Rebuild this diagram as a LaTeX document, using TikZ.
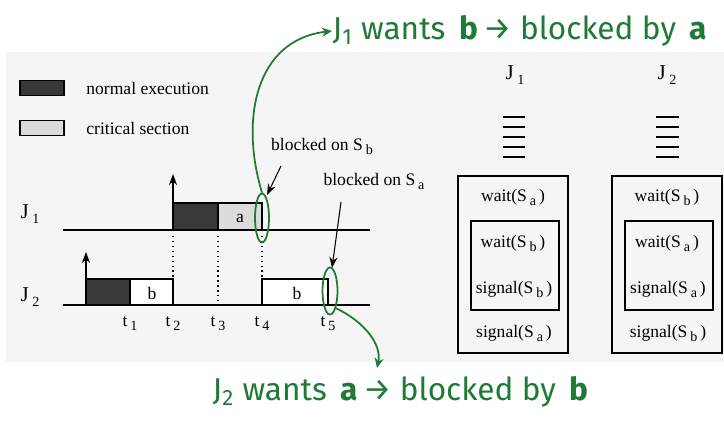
\documentclass[tikz,border=0pt]{standalone}
\usepackage{fontspec}
\setmainfont{Liberation Serif}
\newfontfamily\handfont{Fira Sans}
\usetikzlibrary{arrows.meta,positioning,shapes.geometric}
\definecolor{scangray}{HTML}{F5F5F5}
\definecolor{inkgreen}{HTML}{1F7A35}
\newcommand{\sbs}[1]{\,\raisebox{-0.5ex}{\footnotesize #1}}

\begin{document}
\begin{tikzpicture}[x=0.02cm,y=-0.02cm,
  line width=0.8pt,
  exec/.style={draw,fill=black!78},
  crit/.style={draw,fill=black!14},
  free/.style={draw,fill=white},
  swatch/.style={draw,minimum width=0.88cm,minimum height=0.3cm,inner sep=0pt},
  job/.style={font=\large,inner sep=0pt},
  tick/.style={anchor=north,inner sep=0pt},
  code/.style={inner sep=0pt},
  pointer/.style={-{Stealth[length=2.2mm,width=1.6mm]},line width=0.6pt},
  note/.style={inkgreen,anchor=west,inner sep=0pt,font=\handfont\fontsize{18}{20}\selectfont},
  ring/.style={draw=inkgreen,line width=1pt,ellipse,inner sep=0pt},
  hook/.style={inkgreen,line width=1pt,-{Stealth[length=2mm,width=1.8mm]}}
]
\useasboundingbox (0,0) rectangle (724,428);
\fill[scangray] (6,52) rectangle (724,362);

% legend
\node[swatch,fill=black!78] (lexec) at (42,88) {};
\node[swatch,fill=black!14] (lcrit) at (42,128) {};
\node[right=0.42cm of lexec,inner sep=0pt] (lexect) {normal execution};
\node[right=0.42cm of lcrit,inner sep=0pt] (lcritt) {critical section};

% time lines
\node[job] (j1) at (30,214) {J\sbs{1}};
\node[job] (j2) at (30,297) {J\sbs{2}};
\draw (63,230) -- (370,230);
\draw (63,305) -- (370,305);

% J1
\draw[exec] (173,230) rectangle (218,203);
\draw[crit] (218,230) rectangle (262,203);
\node[code] (ja) at (240,218) {a};
\draw[pointer] (173,230) -- (173,174);

% J2
\draw[exec] (86,305) rectangle (130,279);
\draw[free] (130,305) rectangle (173,279);
\node[code] (jb1) at (152,293) {b};
\draw[free] (262,305) rectangle (328,279);
\node[code] (jb2) at (297,293) {b};
\draw[pointer] (86,305) -- (86,252);

% instants
\draw[dotted] (173,236) -- (173,279);
\draw[dotted] (218,236) -- (218,303);
\draw[dotted] (262,236) -- (262,279);
\node[tick] (t1) at (130,316) {t\sbs{1}};
\node[tick] (t2) at (173,316) {t\sbs{2}};
\node[tick] (t3) at (218,316) {t\sbs{3}};
\node[tick] (t4) at (262,316) {t\sbs{4}};
\node[tick] (t5) at (328,316) {t\sbs{5}};

% blocking remarks
\node[code] (onb) at (322,146) {blocked on S\sbs{b}};
\node[code] (ona) at (374,181) {blocked on S\sbs{a}};
\coordinate (onbtail) at (281,166);
\coordinate (onbtip) at (267,195);
\coordinate (onatail) at (341,202);
\coordinate (onatip) at (332,268);
\draw[pointer] (onbtail) -- (onbtip);
\draw[pointer] (onatail) -- (onatip);

% code of J1 and J2
\node[job] (c1) at (515,75) {J\sbs{1}};
\node[job] (c2) at (667,75) {J\sbs{2}};
\foreach \y in {117,127,137,147,157} {
  \draw[line width=0.7pt] (503,\y) -- (525,\y);
  \draw[line width=0.7pt] (656,\y) -- (679,\y);
}
\draw (458,176) rectangle (568,353);
\draw (471,221) rectangle (559,310);
\draw (612,176) rectangle (722,353);
\draw (625,221) rectangle (713,310);
\node[code] (w1a) at (513,197) {wait(S\sbs{a}\,)};
\node[code] (w1b) at (513,243) {wait(S\sbs{b}\,)};
\node[code] (s1b) at (514,289) {signal(S\sbs{b}\,)};
\node[code] (s1a) at (514,333) {signal(S\sbs{a}\,)};
\node[code] (w2b) at (667,197) {wait(S\sbs{b}\,)};
\node[code] (w2a) at (667,243) {wait(S\sbs{a}\,)};
\node[code] (s2a) at (668,289) {signal(S\sbs{a}\,)};
\node[code] (s2b) at (668,333) {signal(S\sbs{b}\,)};

% green notes
\node[ring,minimum width=0.28cm,minimum height=0.98cm] (ring1) at (262,218) {};
\node[ring,minimum width=0.3cm,minimum height=0.94cm] (ring2) at (330,291) {};
\node[note] (note1) at (332,31) {J\textsubscript{1} wants \,\textbf{b}\,→ blocked by \,\textbf{a}};
\node[note] (note2) at (212,392) {J\textsubscript{2} wants \,\textbf{a}\,→ blocked by \,\textbf{b}};
\draw[hook] (ring1.north) .. controls (240,120) and (255,40) .. (note1.west);
\draw[hook] (ring2.south east) .. controls (365,322) and (382,345) .. (377,368);
\end{tikzpicture}
\end{document}
